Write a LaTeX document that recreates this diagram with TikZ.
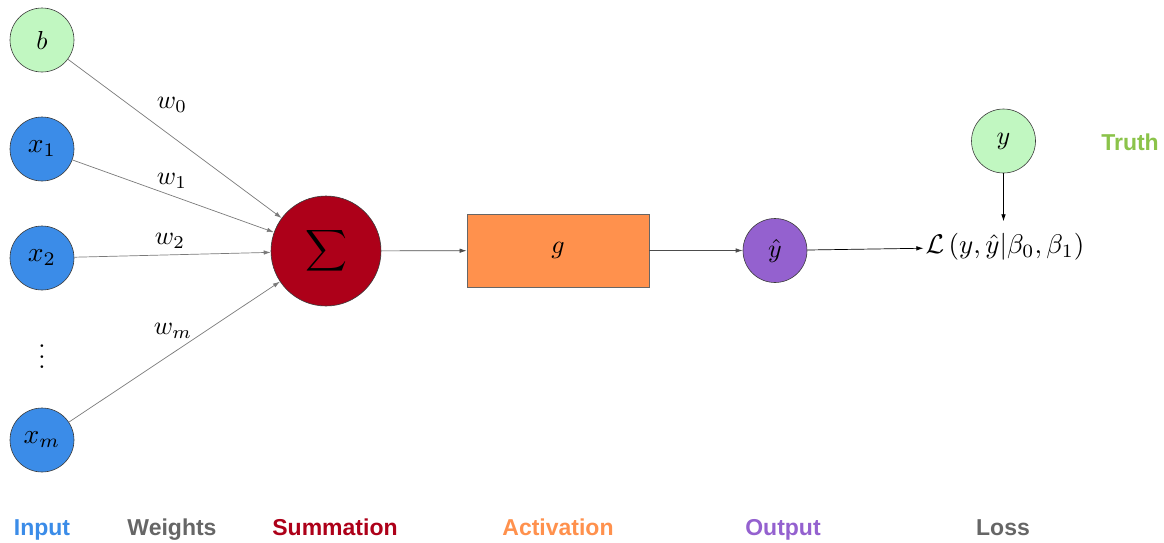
\documentclass[tikz,border=0pt]{standalone}
\usepackage{amsmath}
\usepackage{graphicx}
\usepackage{fontspec}
\newfontfamily\labelfont{Liberation Sans}
\usetikzlibrary{arrows.meta}
\newcommand{\mth}[2][2.6]{\scalebox{#1}{$#2$}}
\definecolor{inblue}{HTML}{3B8CE8}
\definecolor{wgray}{HTML}{666666}
\definecolor{sumred}{HTML}{AD0019}
\definecolor{actorange}{HTML}{FF914D}
\definecolor{outpurple}{HTML}{9461CF}
\definecolor{lightgreen}{HTML}{C1F7C1}
\definecolor{truthgreen}{HTML}{8BC34A}
\definecolor{edgegray}{HTML}{7A7A7A}
\definecolor{borderc}{HTML}{3A3A3A}
\tikzset{
  neuron/.style={circle, draw=borderc, line width=0.6pt, minimum size=64pt, inner sep=0pt},
  sumnode/.style={circle, draw=borderc, line width=0.6pt, fill=sumred, minimum size=110pt, inner sep=0pt},
  actbox/.style={rectangle, draw=wgray, line width=0.8pt, fill=actorange, minimum width=182pt, minimum height=73pt, inner sep=0pt},
  wlabel/.style={inner sep=0pt},
  caption/.style={font=\labelfont\bfseries\fontsize{23}{26}\selectfont, anchor=base, inner sep=0pt},
  wire/.style={draw=edgegray, line width=0.7pt, -{Latex[length=7pt,width=4.5pt]}},
  blackwire/.style={draw=black, line width=0.7pt, -{Latex[length=7pt,width=4.5pt]}}
}
\begin{document}
\begin{tikzpicture}[x=1pt,y=-1pt]
\useasboundingbox (0,0) rectangle (1164,542);

% input nodes
\node[neuron, fill=lightgreen] (b) at (42,40) {\mth{b}};
\node[neuron, fill=inblue] (x1) at (42,149) {\mth[2.75]{x_1}};
\node[neuron, fill=inblue] (x2) at (42,258) {\mth[2.75]{x_2}};
\node[inner sep=0pt] (dots) at (42,349) {\mth{\vdots}};
\node[neuron, fill=inblue] (xm) at (42,440) {\mth[2.75]{x_m}};

% summation
\node[sumnode] (sum) at (326,251) {\mth[2.9]{\displaystyle\sum}};

% activation
\node[actbox] (g) at (558,250.5) {\mth{g}};

% output
\node[neuron, fill=outpurple] (yhat) at (775,250.5) {\mth{\hat{y}}};

% truth
\node[neuron, fill=lightgreen] (y) at (1003.5,141) {\mth{y}};

% loss
\node[inner xsep=2pt, inner ysep=12pt] (loss) at (1005,247) {\mth[2.7]{\mathcal{L}\left(y,\hat{y}|\beta_0,\beta_1\right)}};

% weights labels
\node[wlabel] (w0) at (172,105) {\mth{w_0}};
\node[wlabel] (w1) at (172,181) {\mth{w_1}};
\node[wlabel] (w2) at (170,241) {\mth{w_2}};
\node[wlabel] (wm) at (173,331) {\mth{w_m}};

% connectors
\draw[wire] (b) -- (sum);
\draw[wire] (x1) -- (sum);
\draw[wire] (x2) -- (sum);
\draw[wire] (xm) -- (sum);
\draw[wire, draw=black!70] (sum) -- (g);
\draw[wire, draw=black!70] (g) -- (yhat);
\draw[blackwire] (yhat) -- (loss);
\draw[blackwire] (y) -- (y |- loss.north);

% captions
\node[caption, text=inblue] (cin) at (42,535) {Input};
\node[caption, text=wgray] (cw) at (172,535) {Weights};
\node[caption, text=sumred] (cs) at (335,535) {Summation};
\node[caption, text=actorange] (ca) at (558,535) {Activation};
\node[caption, text=outpurple] (co) at (783,535) {Output};
\node[caption, text=wgray] (cl) at (1003,535) {Loss};
\node[caption, text=truthgreen] (ct) at (1130,150) {Truth};
\end{tikzpicture}
\end{document}
